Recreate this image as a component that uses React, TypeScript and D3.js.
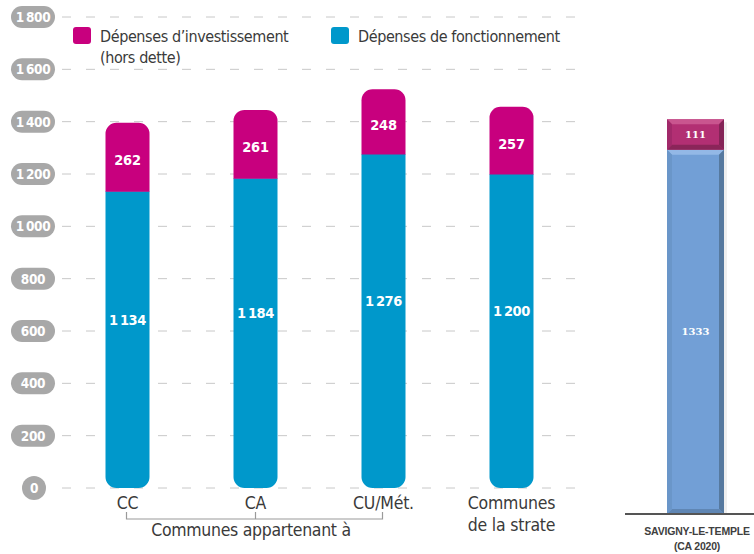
import React from "react";
import * as d3 from "d3";

const categories = ["CC", "CA", "CU/Mét.", "Communes de la strate"];
const categoryLines = [["CC"], ["CA"], ["CU/Mét."], ["Communes", "de la strate"]];
const fonctionnement = [1134, 1184, 1276, 1200];
const investissement = [262, 261, 248, 257];
const yTicks = [0, 200, 400, 600, 800, 1000, 1200, 1400, 1600, 1800];

const savCategory = "SAVIGNY-LE-TEMPLE (CA 2020)";
const savFonctionnement = [1333];
const savInvestissement = [111];

const MAGENTA = "#c8007e";
const BLUE = "#0098cb";
const TEXT = "#3a3a3a";
const NARROW = "'DejaVu Sans Condensed', 'Liberation Sans Narrow', sans-serif";
const DIGIT = "'DejaVu Sans Condensed', 'DejaVu Sans', sans-serif";

function fmt(v: number) {
  return v >= 1000 ? String(v)[0] + "\u2009" + String(v).slice(1) : String(v);
}

function roundTopPath(x: number, y: number, w: number, h: number, r: number) {
  const p = d3.path();
  p.moveTo(x, y + h);
  p.lineTo(x, y + r);
  p.arcTo(x, y, x + r, y, r);
  p.lineTo(x + w - r, y);
  p.arcTo(x + w, y, x + w, y + r, r);
  p.lineTo(x + w, y + h);
  p.closePath();
  return p.toString();
}
function roundBottomPath(x: number, y: number, w: number, h: number, r: number) {
  const p = d3.path();
  p.moveTo(x, y);
  p.lineTo(x + w, y);
  p.lineTo(x + w, y + h - r);
  p.arcTo(x + w, y + h, x + w - r, y + h, r);
  p.lineTo(x + r, y + h);
  p.arcTo(x, y + h, x, y + h - r, r);
  p.closePath();
  return p.toString();
}

export default function App() {
  const y = d3.scaleLinear().domain([0, 1800]).range([488, 17]);
  const x = d3.scalePoint<string>().domain(categories).range([63.5, 575.5]).padding(0.5);
  const barW = 44;
  const R = 11;

  const y2 = d3.scaleLinear().domain([0, 1500]).range([514, 104]);
  const x2 = d3.scaleBand<string>().domain([savCategory]).range([667, 724]).padding(0);
  const bw2 = x2.bandwidth();
  const bev = 5;

  const bevelBar = (x0: number, y0: number, w: number, h: number, face: string, light: string, dark: string, mid: string, bottomDark: string) => {
    const x1 = x0 + w, y1 = y0 + h;
    return (
      <g>
        <rect x={x0} y={y0} width={w} height={h} fill={face} />
        <polygon points={`${x0},${y0} ${x1},${y0} ${x1 - bev},${y0 + bev} ${x0 + bev},${y0 + bev}`} fill={light} />
        <polygon points={`${x1},${y0} ${x1},${y1} ${x1 - bev},${y1 - bev} ${x1 - bev},${y0 + bev}`} fill={dark} />
        <polygon points={`${x0},${y1} ${x1},${y1} ${x1 - bev},${y1 - bev} ${x0 + bev},${y1 - bev}`} fill={bottomDark} />
        <polygon points={`${x0},${y0} ${x0 + bev},${y0 + bev} ${x0 + bev},${y1 - bev} ${x0},${y1}`} fill={mid} />
      </g>
    );
  };

  return (
    <svg width={754} height={554} style={{ position: "absolute", left: 0, top: 0, background: "#fff" }}>
      {/* gridlines */}
      {yTicks.map((t) => (
        <line key={"g" + t} x1={62} x2={577} y1={y(t)} y2={y(t)} stroke="#c8c8c8" strokeWidth={1} strokeDasharray="9 15" />
      ))}
      {/* y labels pills */}
      {yTicks.map((t) => (
        <g key={"p" + t}>
          {t === 0 ? (
            <circle cx={34} cy={y(t)} r={12} fill="#a8a8a8" />
          ) : (
            <rect x={11} y={y(t) - 11} width={44} height={22} rx={11} fill="#a8a8a8" />
          )}
          <text x={t === 0 ? 34 : 33} y={y(t)} dy="0.36em" textAnchor="middle" fill="#fff" fontFamily={DIGIT} fontWeight="bold" fontSize={13.5} letterSpacing={-0.3}>
            {fmt(t)}
          </text>
        </g>
      ))}

      {/* legend */}
      <rect x={73} y={27} width={18} height={17} rx={3} fill={MAGENTA} />
      <text x={100} y={42} fontFamily={NARROW} fontSize={16} letterSpacing={-0.4} fill={TEXT}>Dépenses d’investissement</text>
      <text x={100} y={63} fontFamily={NARROW} fontSize={16} letterSpacing={-0.4} fill={TEXT}>(hors dette)</text>
      <rect x={331} y={27} width={18} height={17} rx={3} fill={BLUE} />
      <text x={358} y={42} fontFamily={NARROW} fontSize={16} letterSpacing={-0.4} fill={TEXT}>Dépenses de fonctionnement</text>

      {/* bars */}
      {categories.map((c, i) => {
        const cx = x(c)!;
        const x0 = cx - barW / 2;
        const f = fonctionnement[i];
        const inv = investissement[i];
        const yF = y(f);
        const yT = y(f + inv);
        return (
          <g key={c}>
            <path d={roundBottomPath(x0, yF, barW, y(0) - yF, R)} fill={BLUE} />
            <path d={roundTopPath(x0, yT, barW, yF - yT + 0.5, R)} fill={MAGENTA} />
            <text x={cx} y={(yT + yF) / 2 + 3} dy="0.36em" textAnchor="middle" fill="#fff" fontFamily={DIGIT} fontWeight="bold" fontSize={14.5} letterSpacing={-0.3}>{inv}</text>
            <text x={cx} y={(yF + y(0)) / 2 - 20} dy="0.36em" textAnchor="middle" fill="#fff" fontFamily={DIGIT} fontWeight="bold" fontSize={14.5} letterSpacing={-0.4}>
              {fmt(f)}
            </text>
          </g>
        );
      })}

      {/* x labels */}
      {categories.map((c, i) => (
        <text key={"xl" + c} x={x(c)!} y={509} textAnchor="middle" fontFamily={NARROW} fontSize={17.5} letterSpacing={-0.2} fill={TEXT}>
          {categoryLines[i].map((l, j) => (
            <tspan key={j} x={x(c)!} dy={j === 0 ? 0 : 22}>{l}</tspan>
          ))}
        </text>
      ))}
      {/* bracket */}
      <path
        d={`M${x(categories[0])! - 1},512 V519 H${x(categories[2])! - 1} V512 M${x(categories[1])!},519 V512`}
        fill="none"
        stroke="#9a9a9a"
        strokeWidth={1.2}
      />
      <text x={251} y={536} textAnchor="middle" fontFamily={NARROW} fontSize={17.5} letterSpacing={-0.3} fill={TEXT}>Communes appartenant à</text>

      {/* Savigny chart */}
      {(() => {
        const x0 = x2(savCategory)!;
        const f = savFonctionnement[0];
        const inv = savInvestissement[0];
        const yF = y2(f);
        const yT = y2(f + inv);
        return (
          <g>
            <rect x={x0 + 3} y={yT + 3} width={bw2} height={y2(0) - yT - 3} fill="#e0e0e0" opacity={0.5} />
            {bevelBar(x0, yF, bw2, y2(0) - yF, "#729fd6", "#93b8e6", "#56799f", "#6a96c9", "#5f86b4")}
            {bevelBar(x0, yT, bw2, yF - yT, "#b22f73", "#c9558f", "#842457", "#a1296a", "#8a2559")}
            <text x={x0 + bw2 / 2} y={(yT + yF) / 2} dy="0.36em" textAnchor="middle" fill="#fff" fontFamily="'DejaVu Serif', serif" fontWeight="bold" fontSize={10}>{inv}</text>
            <text x={x0 + bw2 / 2} y={(yF + y2(0)) / 2} dy="0.36em" textAnchor="middle" fill="#fff" fontFamily="'DejaVu Serif', serif" fontWeight="bold" fontSize={10}>{f}</text>
            <line x1={625} x2={754} y1={y2(0)} y2={y2(0)} stroke="#555" strokeWidth={2} />
            <text x={697} y={535} textAnchor="middle" fontFamily="'Liberation Sans', sans-serif" fontWeight="bold" fontSize={10.5} letterSpacing={-0.2} fill="#404040">SAVIGNY-LE-TEMPLE</text>
            <text x={697} y={550} textAnchor="middle" fontFamily="'Liberation Sans', sans-serif" fontWeight="bold" fontSize={10.5} letterSpacing={-0.2} fill="#404040">(CA 2020)</text>
          </g>
        );
      })()}
    </svg>
  );
}
